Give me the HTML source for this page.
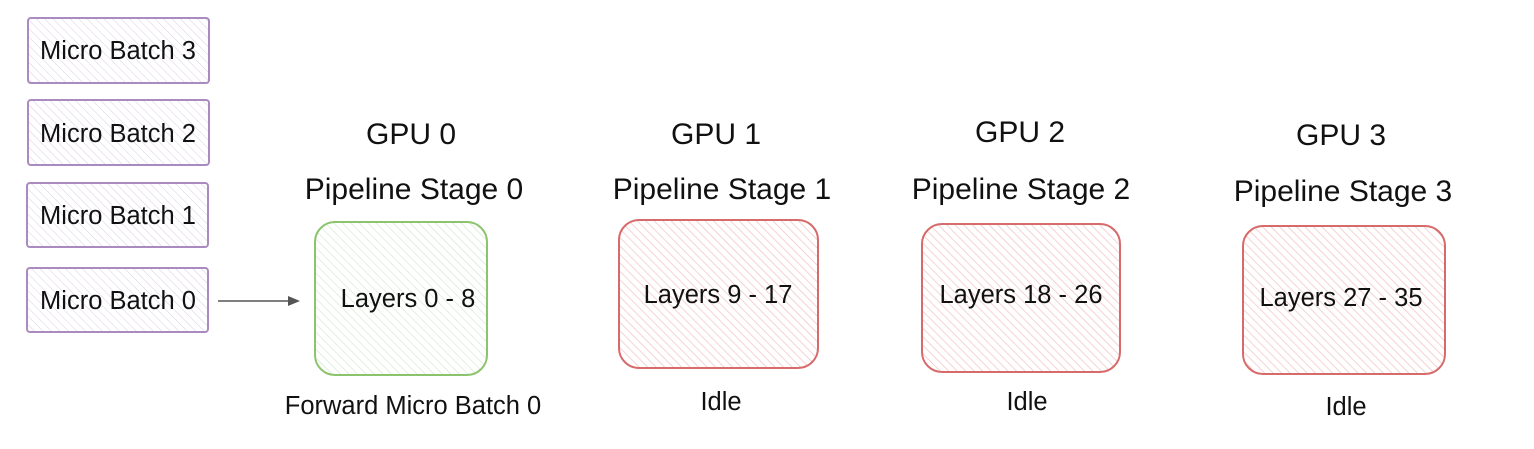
<!DOCTYPE html>
<html><head><meta charset="utf-8"><style>
html,body{margin:0;padding:0;background:#fff;}
text{font-family:"Liberation Sans",Arial,sans-serif;fill:#111;}
</style></head><body>
<svg width="1534" height="444" xmlns="http://www.w3.org/2000/svg">
<defs>
<pattern id="hp" width="6" height="6" patternUnits="userSpaceOnUse" patternTransform="rotate(-45)"><line x1="0" y1="0" x2="0" y2="6" stroke="#d9cce3" stroke-width="1"/></pattern>
<pattern id="hg" width="6" height="6" patternUnits="userSpaceOnUse" patternTransform="rotate(-45)"><line x1="0" y1="0" x2="0" y2="6" stroke="#cfe5c6" stroke-width="1.2"/></pattern>
<pattern id="hr" width="6" height="6" patternUnits="userSpaceOnUse" patternTransform="rotate(-45)"><line x1="0" y1="0" x2="0" y2="6" stroke="#f2c4c4" stroke-width="1.5"/></pattern>
</defs>
<g stroke="#a98bbf" stroke-width="2" fill="url(#hp)">
<rect x="28" y="18" width="181" height="65" rx="3"/>
<rect x="28" y="100" width="181" height="65" rx="3"/>
<rect x="27" y="183" width="181" height="64" rx="3"/>
<rect x="27" y="268" width="181" height="64" rx="3"/>
</g>
<g font-size="25.5">
<text x="118" y="59" text-anchor="middle">Micro Batch 3</text>
<text x="118" y="142" text-anchor="middle">Micro Batch 2</text>
<text x="118" y="224" text-anchor="middle">Micro Batch 1</text>
<text x="118" y="309" text-anchor="middle">Micro Batch 0</text>
</g>
<line x1="218" y1="301" x2="292" y2="301" stroke="#555" stroke-width="1.5"/>
<polygon points="300,301 288,296 288,306" fill="#555"/>
<rect x="315" y="222" width="172" height="153" rx="20" fill="url(#hg)" stroke="#8cc46e" stroke-width="2"/>
<rect x="619" y="220" width="199" height="148" rx="20" fill="url(#hr)" stroke="#d76a6a" stroke-width="2"/>
<rect x="922" y="224" width="198" height="148" rx="20" fill="url(#hr)" stroke="#d76a6a" stroke-width="2"/>
<rect x="1243" y="226" width="202" height="148" rx="20" fill="url(#hr)" stroke="#d76a6a" stroke-width="2"/>
<g font-size="25.5" text-anchor="middle">
<text x="408" y="307">Layers 0 - 8</text>
<text x="718" y="303">Layers 9 - 17</text>
<text x="1021" y="303">Layers 18 - 26</text>
<text x="1341" y="306">Layers 27 - 35</text>
<text x="413" y="414">Forward Micro Batch 0</text>
<text x="721" y="410">Idle</text>
<text x="1027" y="410">Idle</text>
<text x="1346" y="415">Idle</text>
</g>
<g font-size="30" text-anchor="middle">
<text x="411" y="144">GPU 0</text>
<text x="414" y="199">Pipeline Stage 0</text>
<text x="716" y="144">GPU 1</text>
<text x="722" y="199">Pipeline Stage 1</text>
<text x="1020" y="142">GPU 2</text>
<text x="1021" y="199">Pipeline Stage 2</text>
<text x="1341" y="145">GPU 3</text>
<text x="1343" y="201">Pipeline Stage 3</text>
</g>
</svg>
</body></html>
